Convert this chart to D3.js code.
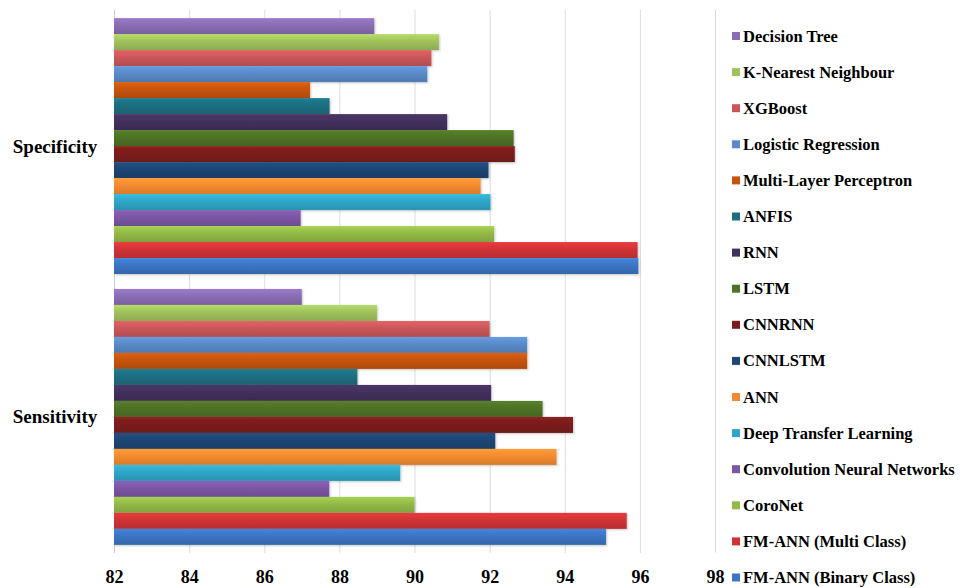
<!DOCTYPE html>
<html>
<head>
<meta charset="utf-8">
<script src="https://cdn.jsdelivr.net/npm/d3@7"></script>
<style>
  html, body { margin: 0; padding: 0; background: #ffffff; }
  svg { display: block; }
  text { font-family: "Liberation Serif", "Times New Roman", serif; font-weight: bold; fill: #000; }
</style>
</head>
<body>
<svg id="chart" width="973" height="588"></svg>
<script>
// Metrics shown on the category axis (top to bottom)
const categories = ["Specificity", "Sensitivity"];

// Models, in drawing order within each group (top to bottom) and legend order
const models = [
  "Decision Tree", "K-Nearest Neighbour", "XGBoost", "Logistic Regression",
  "Multi-Layer Perceptron", "ANFIS", "RNN", "LSTM", "CNNRNN", "CNNLSTM",
  "ANN", "Deep Transfer Learning", "Convolution Neural Networks", "CoroNet",
  "FM-ANN (Multi Class)", "FM-ANN (Binary Class)"
];

// Scores (%) per model
const specificity = [88.93, 90.65, 90.45, 90.34, 87.22, 87.74, 90.87, 92.64,
                     92.67, 91.97, 91.76, 92.02, 86.97, 92.12, 95.94, 95.96];
const sensitivity = [87.0, 89.0, 92.0, 93.0, 93.0, 88.48, 92.04, 93.41,
                     94.22, 92.15, 93.78, 89.62, 87.73, 90.0, 95.65, 95.10];

const colors = ["#8a6db3", "#a0c25c", "#c9575a", "#5a8ac8", "#c6540f", "#1d6e80",
                "#42305c", "#4e7226", "#7b1d1c", "#1e4674", "#f58b30", "#2fa6c7",
                "#7b56a4", "#93b947", "#d03337", "#3b75c3"];

const xTicks = [82, 84, 86, 88, 90, 92, 94, 96, 98];

const values = { "Specificity": specificity, "Sensitivity": sensitivity };

const svg = d3.select("#chart");
const plot = { left: 114, right: 715, top: 10, bottom: 553 };

const x = d3.scaleLinear().domain([82, 98]).range([plot.left, plot.right]);
const y0 = d3.scaleBand().domain(categories).range([plot.top, plot.bottom])
  .paddingInner(0.055).paddingOuter(0.03);
const y1 = d3.scaleBand().domain(models).range([0, y0.bandwidth()]).padding(0);

// Gradient per series: lighter top edge, darker bottom edge
const defs = svg.append("defs");
colors.forEach((c, i) => {
  const g = defs.append("linearGradient").attr("id", "grad" + i)
    .attr("x1", 0).attr("y1", 0).attr("x2", 0).attr("y2", 1);
  const base = d3.color(c);
  g.append("stop").attr("offset", "0%").attr("stop-color", base.brighter(0.35));
  g.append("stop").attr("offset", "45%").attr("stop-color", base);
  g.append("stop").attr("offset", "100%").attr("stop-color", base.darker(0.35));
});
const shadow = defs.append("filter").attr("id", "shadow")
  .attr("x", "-5%").attr("y", "-20%").attr("width", "110%").attr("height", "160%");
shadow.append("feDropShadow").attr("dx", 1).attr("dy", 1).attr("stdDeviation", 1)
  .attr("flood-color", "#000").attr("flood-opacity", 0.22);

// Vertical gridlines
svg.append("g").selectAll("line").data(xTicks).join("line")
  .attr("x1", d => x(d) + 0.5).attr("x2", d => x(d) + 0.5)
  .attr("y1", plot.top).attr("y2", plot.bottom)
  .attr("stroke", d => d === 82 ? "#c9ced6" : "#d8dce3").attr("stroke-width", 1);

// Bars
const groups = svg.append("g").selectAll("g").data(categories).join("g")
  .attr("transform", d => `translate(0,${y0(d)})`);
groups.selectAll("rect")
  .data(cat => models.map((m, i) => ({ model: m, i, value: values[cat][i] })))
  .join("rect")
  .attr("x", x(82))
  .attr("y", d => y1(d.model))
  .attr("width", d => x(d.value) - x(82))
  .attr("height", y1.bandwidth())
  .attr("fill", d => `url(#grad${d.i})`)
  .attr("filter", "url(#shadow)");

// Category labels
svg.append("g").selectAll("text").data(categories).join("text")
  .attr("x", 55).attr("y", d => y0(d) + y0.bandwidth() / 2)
  .attr("text-anchor", "middle").attr("dominant-baseline", "central")
  .style("font-size", "19px").text(d => d);

// Value axis tick labels
const xAxis = d3.axisBottom(x).tickValues(xTicks).tickSize(0).tickPadding(0);
const axisG = svg.append("g").attr("transform", `translate(0,${plot.bottom + 17})`).call(xAxis);
axisG.select(".domain").remove();
axisG.selectAll("text").style("font-size", "18px").style("font-family", "'Liberation Serif', serif")
  .style("font-weight", "bold").attr("fill", "#000");

// Legend
const legend = svg.append("g").attr("transform", "translate(732,36)");
const items = legend.selectAll("g").data(models).join("g")
  .attr("transform", (d, i) => `translate(0,${i * 36.1})`);
items.append("rect").attr("x", 0).attr("y", -4).attr("width", 8).attr("height", 8)
  .attr("fill", (d, i) => colors[i]);
items.append("text").attr("x", 11).attr("y", 0).attr("dominant-baseline", "central")
  .style("font-size", "16.5px").text(d => d);
</script>
</body>
</html>
